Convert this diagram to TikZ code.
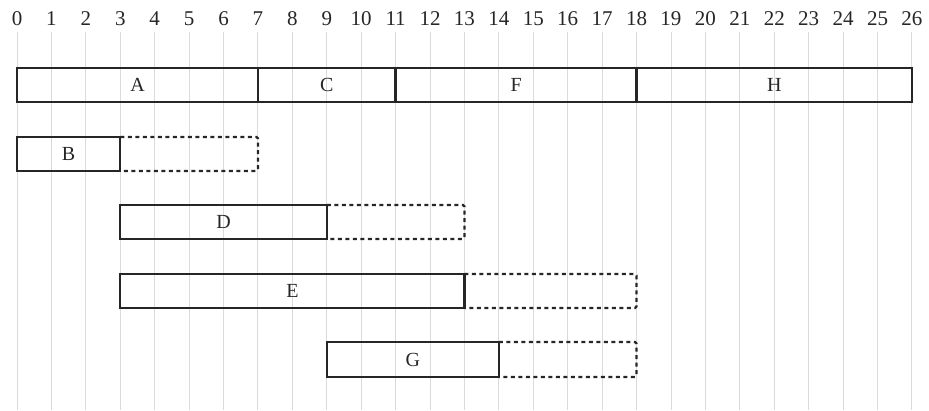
\documentclass[tikz,border=0pt]{standalone}
\usepackage{fontspec}
\setmainfont{Liberation Serif}
\usetikzlibrary{fit}
\begin{document}
\begin{tikzpicture}[x=34.42pt,y=-1pt,
  gridline/.style={draw=black!14,line width=0.9pt},
  bar/.style={draw=black!85,line width=2.3pt,inner sep=0pt,outer sep=0pt},
  lbl/.style={font=\fontsize{20}{20}\selectfont,inner sep=0pt,text=black!85},
  ext/.style={draw=black!85,line width=2.3pt,dash pattern=on 4pt off 3.5pt,rounded corners=1.5pt},
  tick/.style={font=\fontsize{21}{21}\selectfont,inner sep=0pt,text=black!85}]
\useasboundingbox (-0.4939,0) rectangle (26.4961,410);
\foreach \i in {0,...,26}{
  \draw[gridline] (\i,32) -- (\i,410);
  \node[tick] (t\i) at (\i,19) {\i};
}
\node[bar,fit={(0,68)(7,102)}] (A) {};
\node[bar,fit={(7,68)(11,102)}] (C) {};
\node[bar,fit={(11,68)(18,102)}] (F) {};
\node[bar,fit={(18,68)(26,102)}] (H) {};
\node[bar,fit={(0,137)(3,171)}] (B) {};
\node[bar,fit={(3,205)(9,239)}] (D) {};
\node[bar,fit={(3,274)(13,308)}] (E) {};
\node[bar,fit={(9,342)(14,377)}] (G) {};
\foreach \n in {A,C,F,H,B,D,E,G}{
  \node[lbl] (l\n) at (\n.center) {\n};
}
\draw[ext] (B.north east) -- (7,137) -- (7,171) -- (B.south east);
\draw[ext] (D.north east) -- (13,205) -- (13,239) -- (D.south east);
\draw[ext] (E.north east) -- (18,274) -- (18,308) -- (E.south east);
\draw[ext] (G.north east) -- (18,342) -- (18,377) -- (G.south east);
\end{tikzpicture}
\end{document}
